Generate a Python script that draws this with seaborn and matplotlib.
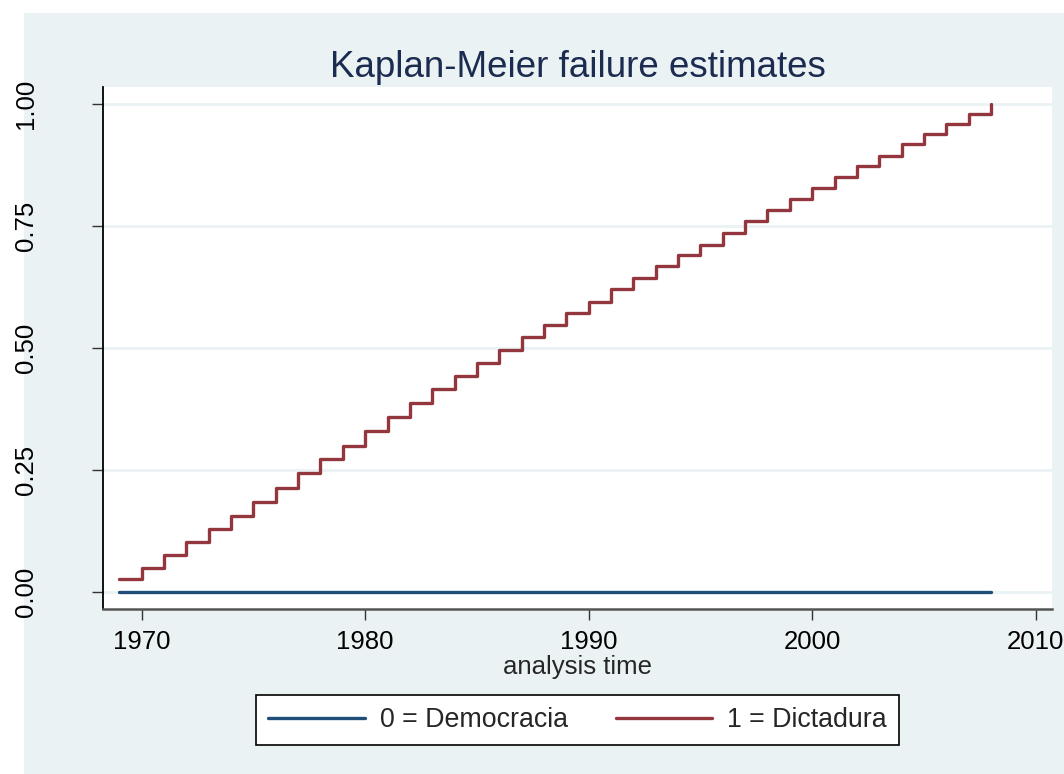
import pandas as pd
import seaborn as sns
import matplotlib.pyplot as plt
from matplotlib.lines import Line2D
from matplotlib.patches import Rectangle

# Kaplan-Meier failure estimates
years = list(range(1969, 2009))
dictadura = [0.026, 0.050, 0.076, 0.103, 0.130, 0.156, 0.185, 0.213, 0.243, 0.272,
             0.300, 0.329, 0.358, 0.387, 0.415, 0.442, 0.470, 0.496, 0.522, 0.547,
             0.572, 0.595, 0.620, 0.644, 0.668, 0.690, 0.712, 0.736, 0.760, 0.782,
             0.806, 0.827, 0.850, 0.872, 0.894, 0.917, 0.938, 0.959, 0.980, 1.000]
democracia = [0.0, 0.0, 0.0, 0.0, 0.0, 0.0, 0.0, 0.0, 0.0, 0.0,
              0.0, 0.0, 0.0, 0.0, 0.0, 0.0, 0.0, 0.0, 0.0, 0.0,
              0.0, 0.0, 0.0, 0.0, 0.0, 0.0, 0.0, 0.0, 0.0, 0.0,
              0.0, 0.0, 0.0, 0.0, 0.0, 0.0, 0.0, 0.0, 0.0, 0.0]
groups = ["0 = Democracia", "1 = Dictadura"]
x_ticks = [1970, 1980, 1990, 2000, 2010]
y_ticks = [0.0, 0.25, 0.5, 0.75, 1.0]
y_ticklabels = ["0.00", "0.25", "0.50", "0.75", "1.00"]

df = pd.concat([
    pd.DataFrame({"time": years, "failure": democracia, "group": groups[0]}),
    pd.DataFrame({"time": years, "failure": dictadura, "group": groups[1]}),
])

sns.set_style("white")
plt.rcParams['font.family'] = ['Liberation Sans', 'DejaVu Sans']

bg = "#eaf2f3"
palette = {groups[0]: "#1f4e78", groups[1]: "#93363d"}

fig = plt.figure(figsize=(10.64, 7.74), dpi=100, facecolor="white")
fig.add_artist(Rectangle((24 / 1064, 0), 1 - 24 / 1064, 1 - 13 / 774,
                         transform=fig.transFigure, facecolor=bg,
                         edgecolor="none", zorder=-5))
ax = fig.add_axes([103 / 1064, 1 - 609 / 774, (1052 - 103) / 1064, (609 - 87) / 774])
ax.set_facecolor("white")

sns.lineplot(data=df, x="time", y="failure", hue="group", palette=palette,
             estimator=None, drawstyle="steps-post", linewidth=2.4,
             legend=False, ax=ax)

ax.set_xlim(1968.27, 2010.73)
ax.set_ylim(-0.0348, 1.0348)
ax.set_xticks(x_ticks)
ax.set_yticks(y_ticks)
ax.set_yticklabels(y_ticklabels, rotation=90, va="center")
ax.grid(axis="y", color=bg, linewidth=2)
ax.set_axisbelow(True)

for side in ["top", "right"]:
    ax.spines[side].set_visible(False)
ax.spines["left"].set_color("black")
ax.spines["left"].set_linewidth(1.3)
ax.spines["bottom"].set_color("#555555")
ax.spines["bottom"].set_linewidth(1.8)

ax.tick_params(axis="both", direction="out", length=8, width=1, color="#333333",
               labelsize=18.5, labelcolor="black")
ax.tick_params(axis="x", pad=7, bottom=True)
ax.tick_params(axis="y", pad=39, left=True)

ax.set_xlabel("analysis time", fontsize=18.5, labelpad=1)
ax.set_ylabel("")
ax.set_title("Kaplan-Meier failure estimates", fontsize=26.5, color="#1c2b50", pad=7)

handles = [Line2D([], [], color=palette[g], linewidth=2.4) for g in groups]
leg = ax.legend(handles, groups, loc="center", bbox_to_anchor=(0.5, -0.2126),
                ncol=2, fontsize=19.3, frameon=True, fancybox=False,
                handlelength=3.6, handletextpad=0.55, columnspacing=1.8,
                borderpad=0.45, borderaxespad=0, framealpha=1, edgecolor="black")
leg.get_frame().set_linewidth(1.2)

plt.savefig("out.png", dpi=100, facecolor=fig.get_facecolor())
